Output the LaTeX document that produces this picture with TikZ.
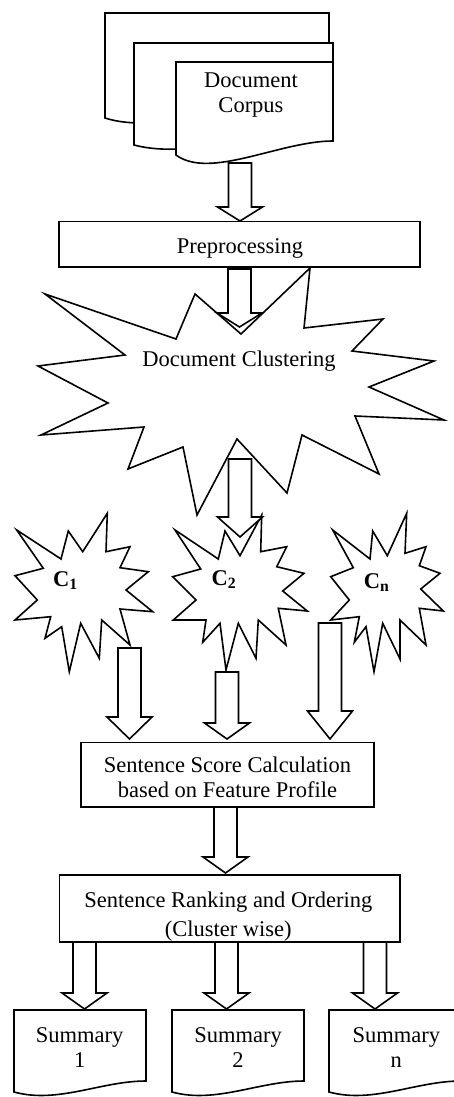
\documentclass[tikz,border=0pt]{standalone}
\usepackage{fontspec}
\setmainfont{Liberation Serif}
\usetikzlibrary{calc}
\tikzset{
  outline/.style={draw=black, line width=1.6pt, line join=miter, fill=white},
  boxnode/.style={outline, rectangle, inner sep=0pt},
  txt/.style={font=\fontsize{22.5}{25}\selectfont, align=center, inner sep=0pt},
  clab/.style={font=\fontsize{22.5}{25}\selectfont\bfseries, inner sep=0pt, anchor=base},
}
% hollow block arrow: #1 top of the shaft, #2 tip, #3 length of the head
\newcommand\fatarrow[3]{%
  \draw[outline] let \p1=(#1), \p2=(#2) in
    (\x1-11.5pt,\y1) -- (\x1-11.5pt,\y2+#3) -- (\x1-22.5pt,\y2+#3) -- (\x2,\y2)
    -- (\x1+22.5pt,\y2+#3) -- (\x1+11.5pt,\y2+#3) -- (\x1+11.5pt,\y1) -- cycle;}
\begin{document}
\begin{tikzpicture}[x=1pt,y=-1pt]
\useasboundingbox (0,0) rectangle (453,1097);

% stack of document pages
\draw[outline] (105,13) -- (329,13) -- (329,100) .. controls (260,100) and (160,136) .. (105,118) -- cycle;
\draw[outline] (134,43) -- (333,43) -- (333,130) .. controls (270,130) and (190,160) .. (134,145) -- cycle;
\draw[outline] (176,62) -- (333,62) -- (333,141) .. controls (280,141) and (210,180) .. (176,155) -- cycle;
\node[txt] (corpus) at (251,95.5) {Document\\Corpus};

% preprocessing
\node[boxnode, minimum width=361pt, minimum height=45.5pt] (prep) at (239.5,244.25) {};
\node[txt, anchor=base] (preptext) at (240,253.3) {Preprocessing};

% clustering starburst
\draw[outline] (45,294) -- (176,339) -- (195,294) -- (241,334) -- (310,268) -- (304,328)
  -- (383,319) -- (352,351) -- (434,361) -- (369,387) -- (444,420) -- (355,416)
  -- (379,474) -- (302,435) -- (287,493) -- (237,439) -- (197,515) -- (183,447)
  -- (128,469) -- (144,427) -- (41,435) -- (108,403) -- (38,366) -- (125,355) -- cycle;
\node[txt, anchor=base] (clustering) at (239,366.7) {Document Clustering};

% cluster C1
\draw[outline] (107.3,513.3) -- (106,551.7) -- (130,546.7) -- (120,567.7) -- (148.3,571.7)
  -- (126,590) -- (152.7,611.7) -- (120,609) -- (130,645) -- (101.7,620) -- (99.3,658.3)
  -- (80.7,623.3) -- (69.3,671.7) -- (61.7,626.7) -- (45,638.3) -- (50.7,616.7) -- (15,620)
  -- (37.3,600) -- (15,575.7) -- (43.3,568.3) -- (16.7,530) -- (61,559) -- (68.3,531)
  -- (82.7,551.7) -- cycle;
\node[clab] (c1) at (65.5,586.7) {C\textsubscript{1}};

% cluster C2
\draw[outline] (261.7,515) -- (260.7,551.7) -- (286.7,546.7) -- (276.7,566.7) -- (304,573.3)
  -- (282.7,591) -- (307.3,611) -- (278.3,608.3) -- (286,645) -- (258.3,620) -- (256,658.3)
  -- (238.3,623.3) -- (226,670) -- (220,623.3) -- (202.7,642.3) -- (206,620) -- (173.3,620)
  -- (196,600) -- (172.7,576.7) -- (200.7,569) -- (175,530) -- (218.3,559) -- (225,531)
  -- (240,555.7) -- cycle;
\node[clab] (c2) at (224,585.7) {C\textsubscript{2}};

% cluster Cn
\draw[outline] (406.7,513.3) -- (405,553.3) -- (426,546.7) -- (419.3,565.7) -- (440,573.3)
  -- (420.7,589) -- (443.3,611) -- (419.3,608.3) -- (426,645) -- (400,620) -- (400,659)
  -- (382.7,623.3) -- (374,671.7) -- (366,626.7) -- (354.3,642.3) -- (359.3,616.7) -- (330.7,620)
  -- (349.3,600) -- (330.7,576.7) -- (353.3,567.7) -- (332.7,530) -- (370,559) -- (372.7,531)
  -- (387.3,555.7) -- cycle;
\node[clab] (cn) at (376.7,588.3) {C\textsubscript{n}};

% sentence scoring and ranking
\node[boxnode, minimum width=293.3pt, minimum height=64.4pt] (score) at (227.35,774.5) {};
\node[txt] (scoretext) at (227.5,777) {Sentence Score Calculation\\based on Feature Profile};
\node[boxnode, minimum width=340.7pt, minimum height=66.7pt] (rank) at (229.65,908.35) {};
\node[txt, font=\fontsize{22.5}{29}\selectfont] (ranktext) at (228.3,916.5) {Sentence Ranking and Ordering\\(Cluster wise)};

% summaries
\draw[outline] (14,1010) -- (146,1010) -- (146,1081) .. controls (101,1081) and (58,1104) .. (14,1092) -- cycle;
\draw[outline] (172,1010) -- (304,1010) -- (304,1081) .. controls (259,1081) and (216,1104) .. (172,1092) -- cycle;
\draw[outline] (329,1010) -- (461,1010) -- (461,1081) .. controls (416,1081) and (373,1104) .. (329,1092) -- cycle;
\node[txt] (sum1) at (79.7,1048) {Summary\\1};
\node[txt] (sum2) at (238,1048) {Summary\\2};
\node[txt] (sumn) at (396.3,1048) {Summary\\n};

% arrow end points
\coordinate (a1s) at (240,163);   \coordinate (a1e) at (240,221);
\coordinate (a2s) at (239.5,269); \coordinate (a2e) at (239.5,327);
\coordinate (a3s) at (240,459);   \coordinate (a3e) at (240,537);
\coordinate (a4s) at (129.5,648); \coordinate (a4e) at (129.5,739);
\coordinate (a5s) at (227,672);   \coordinate (a5e) at (227,739);
\coordinate (a6s) at (330,623);   \coordinate (a6e) at (330,739);
\coordinate (a7s) at (225.5,807); \coordinate (a7e) at (225.5,873);
\coordinate (a8s) at (84.5,942);  \coordinate (a8e) at (84.5,1009);
\coordinate (a9s) at (226.5,942); \coordinate (a9e) at (226.5,1009);
\coordinate (a10s) at (375,942);  \coordinate (a10e) at (375,1009);

\fatarrow{a1s}{a1e}{14pt}
\fatarrow{a2s}{a2e}{14pt}
\fatarrow{a3s}{a3e}{20pt}
\fatarrow{a4s}{a4e}{22pt}
\fatarrow{a5s}{a5e}{16pt}
\fatarrow{a6s}{a6e}{28pt}
\fatarrow{a7s}{a7e}{16pt}
\fatarrow{a8s}{a8e}{16pt}
\fatarrow{a9s}{a9e}{16pt}
\fatarrow{a10s}{a10e}{16pt}
\end{tikzpicture}
\end{document}
